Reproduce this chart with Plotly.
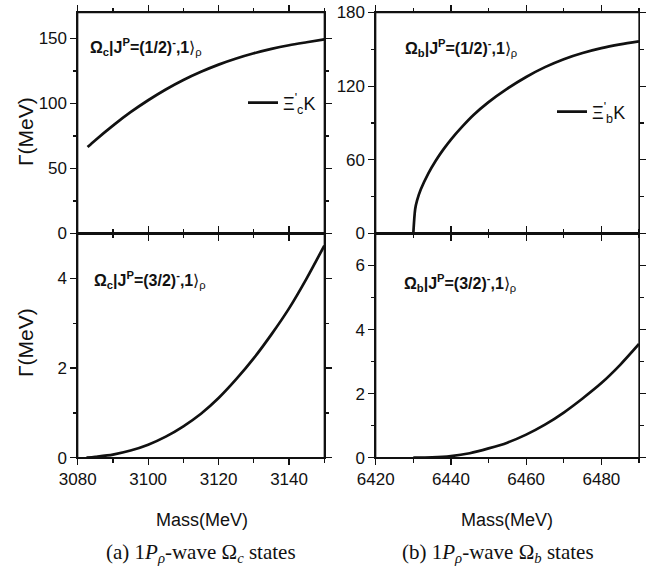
import plotly.graph_objects as go

W, H = 658, 577

# ---------------- data ----------------
mass_c_12 = [3082.8, 3085, 3090, 3095, 3100, 3105, 3110, 3115, 3120, 3125, 3130, 3135, 3140, 3145, 3150]
gamma_c_12 = [66.5, 71.8, 83.0, 93.3, 102.5, 110.8, 118.1, 124.4, 129.9, 134.6, 138.6, 142.0, 144.8, 147.1, 149.3]

mass_b_12 = [6430, 6430.5, 6431, 6432, 6434, 6436, 6438, 6440, 6443, 6446, 6450, 6455, 6460, 6465, 6470, 6475, 6480, 6485, 6490]
gamma_b_12 = [0, 20, 27, 36, 49, 59.5, 68.5, 76.5, 87, 96.5, 107, 118, 127.5, 135.5, 142, 147, 151, 154, 156.5]

mass_c_32 = [3082.5, 3085, 3090, 3095, 3100, 3105, 3110, 3115, 3120, 3125, 3130, 3135, 3140, 3145, 3150]
gamma_c_32 = [0.0, 0.02, 0.07, 0.16, 0.29, 0.47, 0.70, 0.98, 1.33, 1.75, 2.22, 2.75, 3.33, 4.00, 4.73]

mass_b_32 = [6430, 6435, 6440, 6445, 6450, 6455, 6460, 6465, 6470, 6475, 6480, 6485, 6490]
gamma_b_32 = [0.0, 0.01, 0.05, 0.14, 0.29, 0.47, 0.72, 1.03, 1.41, 1.85, 2.33, 2.90, 3.55]

legend_c = "Ξ<sup>'</sup><sub>c</sub>K"
legend_b = "Ξ<sup>'</sup><sub>b</sub>K"

label_c12 = "<b>Ω<sub>c</sub>|J<sup>P</sup>=(1/2)<sup>-</sup>,1</b>⟩<sub>ρ</sub>"
label_b12 = "<b>Ω<sub>b</sub>|J<sup>P</sup>=(1/2)<sup>-</sup>,1</b>⟩<sub>ρ</sub>"
label_c32 = "<b>Ω<sub>c</sub>|J<sup>P</sup>=(3/2)<sup>-</sup>,1</b>⟩<sub>ρ</sub>"
label_b32 = "<b>Ω<sub>b</sub>|J<sup>P</sup>=(3/2)<sup>-</sup>,1</b>⟩<sub>ρ</sub>"

caption_a = "(a) 1<i>P</i><sub><i>ρ</i></sub>-wave Ω<sub><i>c</i></sub> states"
caption_b = "(b) 1<i>P</i><sub><i>ρ</i></sub>-wave Ω<sub><i>b</i></sub> states"

x_title = "Mass(MeV)"
y_title = "Γ(MeV)"

# ---------------- layout geometry ----------------
def px(x):
    return x / W

def py(y):
    return 1 - y / H

dom_left = [px(77.7), px(324.3)]
dom_right = [px(375.7), px(639.0)]
dom_top = [py(233.5), py(12.5)]
dom_bot = [py(457.7), py(233.5)]

SANS = "Liberation Sans, Arial, sans-serif"
SERIF = "Liberation Serif, Times New Roman, serif"
LINE_W = 1.3
INK = "#111111"

fig = go.Figure()

curve = dict(color=INK, width=2.7, shape="spline", smoothing=0.8)
fig.add_trace(go.Scatter(x=mass_c_12, y=gamma_c_12, mode="lines", line=curve,
                         name=legend_c, xaxis="x", yaxis="y", legend="legend", showlegend=True))
fig.add_trace(go.Scatter(x=mass_b_12, y=gamma_b_12, mode="lines", line=curve,
                         name=legend_b, xaxis="x2", yaxis="y2", legend="legend2", showlegend=True))
fig.add_trace(go.Scatter(x=mass_c_32, y=gamma_c_32, mode="lines", line=curve,
                         xaxis="x3", yaxis="y3", showlegend=False))
fig.add_trace(go.Scatter(x=mass_b_32, y=gamma_b_32, mode="lines", line=curve,
                         xaxis="x4", yaxis="y4", showlegend=False))


def base_axis(domain, anchor, rng, dtick, mdtick, labels):
    return dict(
        domain=domain, anchor=anchor, range=rng, autorange=False, automargin=False,
        showline=True, linecolor=INK, linewidth=LINE_W, mirror="ticks",
        ticks="outside", ticklen=6, tickwidth=LINE_W, tickcolor=INK,
        tick0=0, dtick=dtick,
        minor=dict(dtick=mdtick, ticks="outside", ticklen=3.5, tickwidth=LINE_W,
                   tickcolor=INK, showgrid=False),
        showticklabels=labels, tickfont=dict(family=SANS, size=17, color=INK),
        showgrid=False, zeroline=False, fixedrange=True,
    )


x_left = [3080, 3150]
x_right = [6420, 6490]
panels = [
    # (domx, domy, xr, yr, ydtick, ymdtick, xlabels)
    (dom_left, dom_top, x_left, [0, 170], 50, 25, False),
    (dom_right, dom_top, x_right, [0, 180], 60, 30, False),
    (dom_left, dom_bot, x_left, [0, 5], 2, 1, True),
    (dom_right, dom_bot, x_right, [0, 7], 2, 1, True),
]

lay = {}
shapes = []
for i, (dx, dy, xr, yr, ydt, ymdt, xl) in enumerate(panels, start=1):
    xs = "" if i == 1 else str(i)
    lay["xaxis" + xs] = base_axis(dx, "y" + xs, xr, 20, 10, xl)
    lay["yaxis" + xs] = base_axis(dy, "x" + xs, yr, ydt, ymdt, True)
    # panel frame
    shapes.append(dict(type="rect", xref="x%s domain" % xs, yref="y%s domain" % xs,
                       x0=0, x1=1, y0=0, y1=1, line=dict(color=INK, width=LINE_W),
                       fillcolor="rgba(0,0,0,0)", layer="above"))
fig.update_layout(**lay)

legend_common = dict(
    font=dict(family=SANS, size=18, color=INK),
    bgcolor="rgba(0,0,0,0)", borderwidth=0,
    xanchor="left", yanchor="middle", itemclick=False, itemdoubleclick=False,
    tracegroupgap=0,
)
fig.update_layout(
    legend=dict(x=px(243), y=py(103), **legend_common),
    legend2=dict(x=px(552), y=py(112), **legend_common),
)

ann = []
lab_font = dict(family=SANS, size=16, color=INK)
for txt, x, y in [(label_c12, 88, 47), (label_b12, 403, 48), (label_c32, 92, 280), (label_b32, 402, 283)]:
    ann.append(dict(text=txt, x=px(x), y=py(y), xref="paper", yref="paper",
                    xanchor="left", yanchor="middle", showarrow=False, font=lab_font))

ytitle_font = dict(family=SANS, size=21, color=INK)
for y in (132, 343):
    ann.append(dict(text=y_title, x=px(25), y=py(y), xref="paper", yref="paper", textangle=-90,
                    xanchor="center", yanchor="middle", showarrow=False, font=ytitle_font))
xtitle_font = dict(family=SANS, size=18, color=INK)
for x in (202, 507):
    ann.append(dict(text=x_title, x=px(x), y=py(520), xref="paper", yref="paper",
                    xanchor="center", yanchor="middle", showarrow=False, font=xtitle_font))

cap_font = dict(family=SERIF, size=21, color=INK)
for txt, x in [(caption_a, 201), (caption_b, 498)]:
    ann.append(dict(text=txt, x=px(x), y=py(553), xref="paper", yref="paper",
                    xanchor="center", yanchor="middle", showarrow=False, font=cap_font))

fig.update_layout(
    width=W, height=H,
    margin=dict(l=0, r=0, t=0, b=0, pad=0, autoexpand=False),
    paper_bgcolor="white", plot_bgcolor="white",
    annotations=ann,
    shapes=shapes,
    hovermode=False,
)

# remove the browser's default 8px body margin so the figure sits at the page origin
fig.write_html("out.html",
               config={"displayModeBar": False, "staticPlot": True},
               post_script="document.body.style.margin='0px';document.body.style.overflow='hidden';")
